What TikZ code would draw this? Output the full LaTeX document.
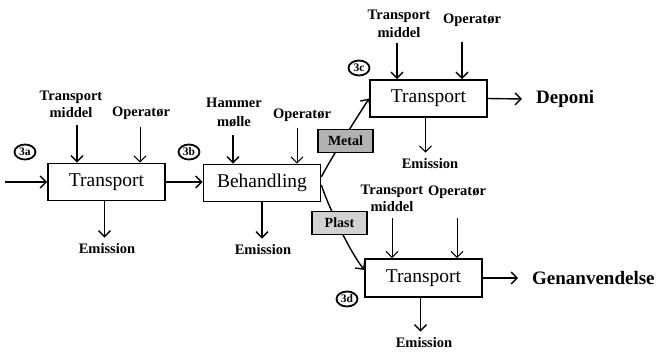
\documentclass[tikz,border=0pt]{standalone}
\usepackage{fontspec}
\setmainfont{Liberation Serif}
\usetikzlibrary{arrows.meta,shapes.geometric}
\begin{document}
\begin{tikzpicture}[x=1pt,y=-1pt,
  proc/.style={draw,line width=1.6pt,minimum width=117pt,minimum height=37pt,inner sep=0pt,
    font=\fontsize{19.5}{21}\selectfont},
  lbl/.style={font=\fontsize{14.5}{17}\selectfont\bfseries,inner sep=0pt,align=center},
  outlbl/.style={font=\fontsize{19}{20}\selectfont\bfseries,inner sep=0pt,anchor=west},
  flow/.style={line width=1.4pt,-{Straight Barb[length=6pt,width=12pt,line width=1.4pt]}},
  thinflow/.style={line width=0.8pt,-{Straight Barb[length=6pt,width=12pt,line width=1.1pt]}},
  tag/.style={draw,line width=1.8pt,ellipse,minimum width=21pt,minimum height=15pt,inner sep=0pt,
    font=\fontsize{11.5}{12}\selectfont\bfseries},
  fraction/.style={draw,line width=1.8pt,minimum width=55pt,minimum height=23pt,inner sep=0pt,
    font=\fontsize{14}{15}\selectfont\bfseries}
]
\useasboundingbox (0,0) rectangle (657,353);

% process boxes
\node[proc] (a3) at (106.5,182) {Transport};
\node[proc] (b3) at (262,183) {Behandling};
\node[proc] (c3) at (428.5,98.5) {Transport};
\node[proc, minimum height=38pt] (d3) at (423.5,278) {Transport};

% step tags
\node[tag] (ta) at (25,152) {3a};
\node[tag] (tb) at (189,152) {3b};
\node[tag] (tc) at (359,68) {3c};
\node[tag] (td) at (347,299) {3d};

% input labels
\node[lbl] (a3tm) at (71,104.5) {Transport\\middel};
\node[lbl] (a3op) at (141,113) {Operatør};
\node[lbl, font=\fontsize{14.5}{19}\selectfont\bfseries] (b3hm) at (234,112.5) {Hammer\\mølle};
\node[lbl] (b3op) at (302,115) {Operatør};
\node[lbl, font=\fontsize{14.5}{18}\selectfont\bfseries] (c3tm) at (399,24) {Transport\\middel};
\node[lbl] (c3op) at (472,20) {Operatør};
\node[lbl] (d3tm) at (392,198.5) {Transport\\middel};
\node[lbl] (d3op) at (457,192) {Operatør};

% emission labels
\node[lbl] (a3em) at (107,249) {Emission};
\node[lbl] (b3em) at (263,250) {Emission};
\node[lbl] (c3em) at (430,164) {Emission};
\node[lbl] (d3em) at (424,343) {Emission};

% destinations
\node[outlbl] (dep) at (536,99) {Deponi};
\node[outlbl] (gen) at (532,278) {Genanvendelse};

% tails of the input arrows
\coordinate (a3i1) at (77,125);
\coordinate (a3i2) at (140,127);
\coordinate (b3i1) at (233,135);
\coordinate (b3i2) at (297,128);
\coordinate (c3i1) at (397,43);
\coordinate (c3i2) at (462,42);
\coordinate (d3i1) at (392,218);
\coordinate (d3i2) at (457,218);
\coordinate (start) at (5,182);

% inputs
\draw[flow] (a3i1) -- (a3i1 |- a3.north);
\draw[thinflow] (a3i2) -- (a3i2 |- a3.north);
\draw[flow] (b3i1) -- (b3i1 |- b3.north);
\draw[thinflow] (b3i2) -- (b3i2 |- b3.north);
\draw[flow] (c3i1) -- (c3i1 |- c3.north);
\draw[flow] (c3i2) -- (c3i2 |- c3.north);
\draw[thinflow] (d3i1) -- (d3i1 |- d3.north);
\draw[thinflow] (d3i2) -- (d3i2 |- d3.north);

% main flow
\draw[flow] (start) -- (a3.west);
\draw[flow] (a3.east) -- (a3.east -| b3.west);
\draw[flow] (c3.east) -- ([xshift=-14pt]dep.west);
\draw[flow] (d3.east) -- ([xshift=-14pt]gen.west);

% emissions
\draw[flow, shorten >=6pt] ([xshift=-2pt]a3.south) -- ([xshift=-2pt]a3.south |- a3em.north);
\draw[flow, shorten >=6pt] (b3.south) -- (b3.south |- b3em.north);
\draw[thinflow, shorten >=6pt] ([xshift=-3pt]c3.south) -- ([xshift=-3pt]c3.south |- c3em.north);
\draw[flow, shorten >=6pt] ([xshift=-3pt]d3.south) -- ([xshift=-3pt]d3.south |- d3em.north);

% split into fractions
\draw[flow] ([yshift=6pt]b3.east) .. controls (330,160) and (357,117) .. (c3.west);
\draw[flow] ([yshift=-2pt]b3.east) .. controls (328,205) and (347,247) .. ([yshift=8pt]d3.west);
\node[fraction, fill=gray!60] (metal) at (345.5,141) {Metal};
\node[fraction, fill=gray!35] (plast) at (339.5,223) {Plast};
\end{tikzpicture}
\end{document}
